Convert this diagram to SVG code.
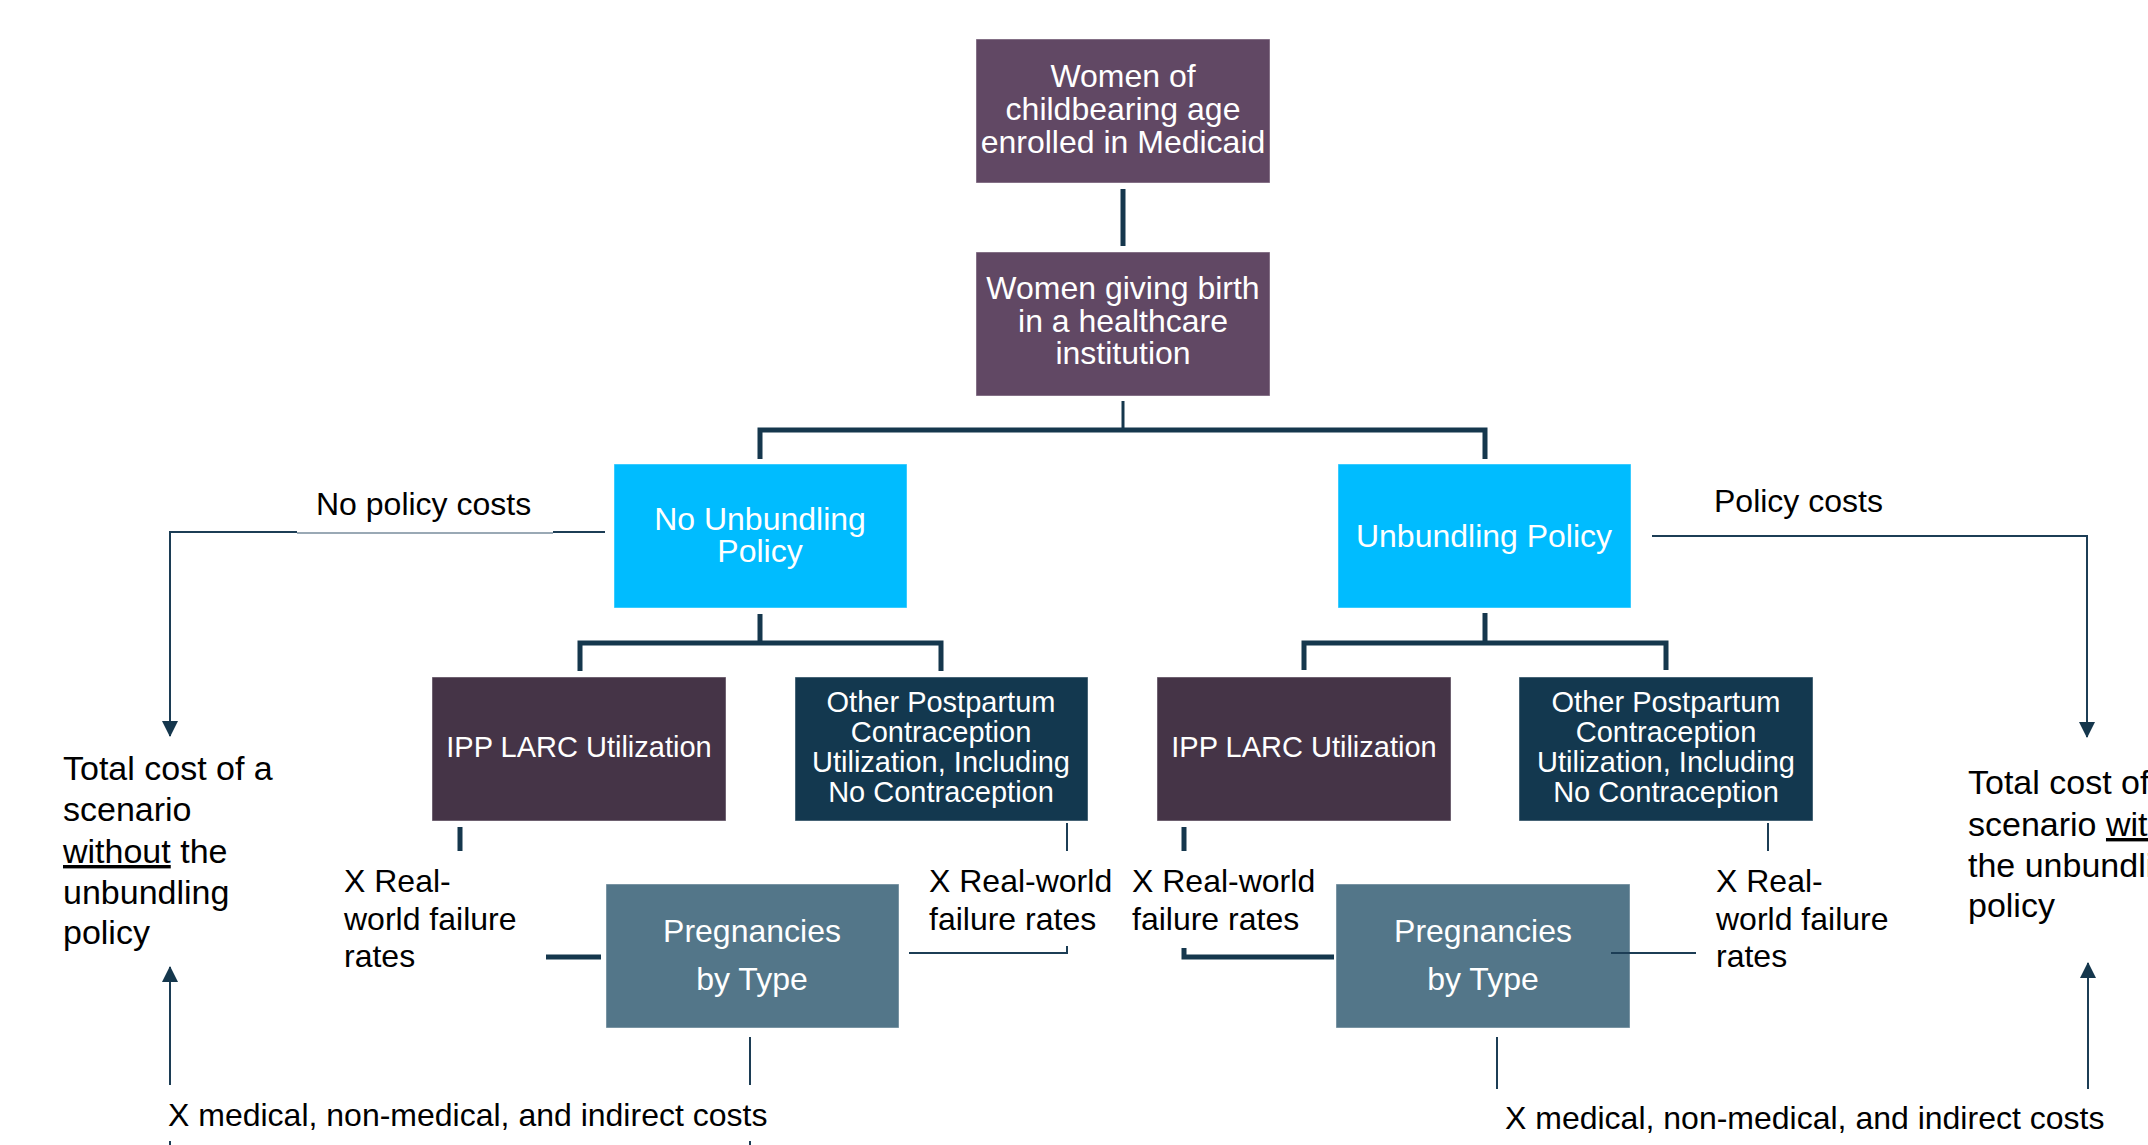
<svg xmlns="http://www.w3.org/2000/svg" width="2148" height="1145" viewBox="0 0 2148 1145">
<defs>
<style>
text{font-family:"Liberation Sans",Arial,sans-serif;}
.nt{font-size:32px;fill:#FFFFFF;text-anchor:middle;}
.ns{font-size:29px;fill:#FFFFFF;text-anchor:middle;}
.lb{font-size:32px;fill:#000000;}
.tc{font-size:34px;fill:#000000;}
.box{stroke:#FFFFFF;stroke-opacity:0.45;stroke-width:1;}
.purple{fill:#614864;}
.blue{fill:#00BCFF;}
.dpurple{fill:#453447;}
.navy{fill:#13384F;}
.slate{fill:#537689;}
.thick{stroke:#15374D;stroke-width:5;fill:none;}
.mid{stroke:#15374D;stroke-width:3;fill:none;}
.thin{stroke:#1C3D55;stroke-width:2;fill:none;}
</style>
<marker id="arrow" viewBox="0 0 16 16" refX="15" refY="8" markerWidth="16" markerHeight="16" markerUnits="userSpaceOnUse" orient="auto">
<path d="M0,0 L16,8 L0,16 Z" fill="#15374D"/>
</marker>
</defs>
<rect width="2148" height="1145" fill="#FFFFFF"/>

<g id="connectors">
<line class="thick" x1="1123" y1="189" x2="1123" y2="246"/>
<line class="mid" x1="1123" y1="401" x2="1123" y2="430"/>
<path class="thick" d="M760,459 V430 H1485 V459"/>
<line class="thick" x1="760" y1="614" x2="760" y2="643"/>
<path class="thick" d="M580,671 V643 H941 V671"/>
<line class="thick" x1="1485" y1="613" x2="1485" y2="643"/>
<path class="thick" d="M1304,670 V643 H1666 V670"/>
<line class="thick" x1="460" y1="827" x2="460" y2="851"/>
<line class="thin" x1="1067" y1="823" x2="1067" y2="851"/>
<line class="thick" x1="1184" y1="827" x2="1184" y2="851"/>
<line class="thin" x1="1768" y1="823" x2="1768" y2="851"/>
<line class="thick" x1="546" y1="957" x2="601" y2="957"/>
<path class="thin" d="M909,953 H1067 V946"/>
<path class="thick" d="M1184,948 V957 H1334"/>
<line class="thin" x1="750" y1="1037" x2="750" y2="1085"/>
<line class="thin" x1="1497" y1="1037" x2="1497" y2="1089"/>
<line class="thin" x1="170" y1="1141" x2="170" y2="1145"/>
<line class="thin" x1="750" y1="1141" x2="750" y2="1145"/>
<line class="thin" x1="605" y1="532" x2="553" y2="532"/>
<line stroke="#9AA9B5" stroke-width="2" x1="553" y1="533" x2="297" y2="533"/>
<path class="thin" d="M297,532 H170 V736" marker-end="url(#arrow)"/>
<path class="thin" d="M1652,536 H2087 V737" marker-end="url(#arrow)"/>
<line class="thin" x1="170" y1="1085" x2="170" y2="967" marker-end="url(#arrow)"/>
<line class="thin" x1="2088" y1="1089" x2="2088" y2="963" marker-end="url(#arrow)"/>
</g>

<g id="node-women-medicaid">
<rect class="box purple" x="976" y="39" width="294" height="144"/>
<text class="nt" x="1123" y="87">Women of</text>
<text class="nt" x="1123" y="120">childbearing age</text>
<text class="nt" x="1123" y="153">enrolled in Medicaid</text>
</g>

<g id="node-women-birth">
<rect class="box purple" x="976" y="252" width="294" height="144"/>
<text class="nt" x="1123" y="299">Women giving birth</text>
<text class="nt" x="1123" y="332">in a healthcare</text>
<text class="nt" x="1123" y="364">institution</text>
</g>

<g id="node-no-unbundling">
<rect class="box blue" x="614" y="464" width="293" height="144"/>
<text class="nt" x="760" y="530">No Unbundling</text>
<text class="nt" x="760" y="562">Policy</text>
</g>

<g id="node-unbundling">
<rect class="box blue" x="1338" y="464" width="293" height="144"/>
<text class="nt" x="1484" y="547">Unbundling Policy</text>
</g>

<g id="node-ipp-left">
<rect class="box dpurple" x="432" y="677" width="294" height="144"/>
<text class="ns" x="579" y="757">IPP LARC Utilization</text>
</g>

<g id="node-other-left">
<rect class="box navy" x="795" y="677" width="293" height="144"/>
<text class="ns" x="941" y="712">Other Postpartum</text>
<text class="ns" x="941" y="742">Contraception</text>
<text class="ns" x="941" y="772">Utilization, Including</text>
<text class="ns" x="941" y="802">No Contraception</text>
</g>

<g id="node-ipp-right">
<rect class="box dpurple" x="1157" y="677" width="294" height="144"/>
<text class="ns" x="1304" y="757">IPP LARC Utilization</text>
</g>

<g id="node-other-right">
<rect class="box navy" x="1519" y="677" width="294" height="144"/>
<text class="ns" x="1666" y="712">Other Postpartum</text>
<text class="ns" x="1666" y="742">Contraception</text>
<text class="ns" x="1666" y="772">Utilization, Including</text>
<text class="ns" x="1666" y="802">No Contraception</text>
</g>

<g id="node-preg-left">
<rect class="box slate" x="606" y="884" width="293" height="144"/>
<text class="nt" x="752" y="942">Pregnancies</text>
<text class="nt" x="752" y="990">by Type</text>
</g>

<g id="node-preg-right">
<rect class="box slate" x="1336" y="884" width="294" height="144"/>
<text class="nt" x="1483" y="942">Pregnancies</text>
<text class="nt" x="1483" y="990">by Type</text>
</g>

<g id="connectors-top">
<line class="thin" x1="1611" y1="953" x2="1696" y2="953"/>
</g>

<g id="labels">
<text class="lb" x="316" y="515">No policy costs</text>
<text class="lb" x="1714" y="512">Policy costs</text>
<text class="tc" x="63" y="780">Total cost of a</text>
<text class="tc" x="63" y="821">scenario</text>
<text class="tc" x="63" y="863"><tspan text-decoration="underline">without</tspan> the</text>
<text class="tc" x="63" y="904">unbundling</text>
<text class="tc" x="63" y="944">policy</text>
<text class="tc" x="1968" y="794">Total cost of a</text>
<text class="tc" x="1968" y="836">scenario <tspan text-decoration="underline">with</tspan></text>
<text class="tc" x="1968" y="877">the unbundling</text>
<text class="tc" x="1968" y="917">policy</text>
<text class="lb" x="344" y="892">X Real-</text>
<text class="lb" x="344" y="930">world failure</text>
<text class="lb" x="344" y="967">rates</text>
<text class="lb" x="929" y="892">X Real-world</text>
<text class="lb" x="929" y="930">failure rates</text>
<text class="lb" x="1132" y="892">X Real-world</text>
<text class="lb" x="1132" y="930">failure rates</text>
<text class="lb" x="1716" y="892">X Real-</text>
<text class="lb" x="1716" y="930">world failure</text>
<text class="lb" x="1716" y="967">rates</text>
<text class="lb" x="168" y="1126">X medical, non-medical, and indirect costs</text>
<text class="lb" x="1505" y="1129">X medical, non-medical, and indirect costs</text>
</g>
</svg>
